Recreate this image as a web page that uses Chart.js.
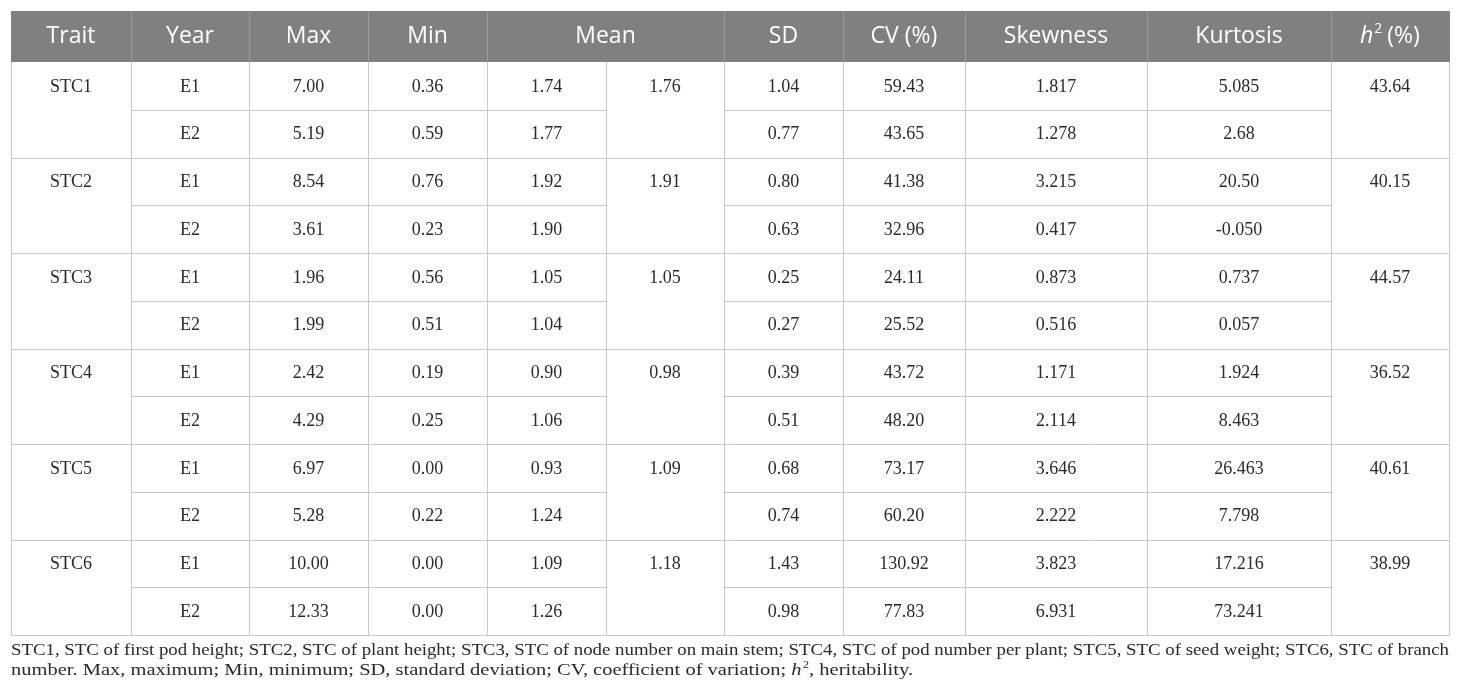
<!DOCTYPE html>
<html>
<head>
<meta charset="utf-8">
<script src="https://cdn.jsdelivr.net/npm/chart.js@4.4.1/dist/chart.umd.min.js"></script>
<style>
  html, body { margin: 0; padding: 0; background: #fff; }
  #wrap { width: 1460px; height: 700px; }
</style>
</head>
<body>
<div id="wrap"><canvas id="myChart"></canvas></div>
<script>
// ---- table data ----
var headers = ['Trait', 'Year', 'Max', 'Min', 'Mean', 'SD', 'CV (%)', 'Skewness', 'Kurtosis', 'h2 (%)'];
var traits = ['STC1', 'STC2', 'STC3', 'STC4', 'STC5', 'STC6'];
var years = ['E1', 'E2'];
var maxVals  = ['7.00', '5.19', '8.54', '3.61', '1.96', '1.99', '2.42', '4.29', '6.97', '5.28', '10.00', '12.33'];
var minVals  = ['0.36', '0.59', '0.76', '0.23', '0.56', '0.51', '0.19', '0.25', '0.00', '0.22', '0.00', '0.00'];
var meanVals = ['1.74', '1.77', '1.92', '1.90', '1.05', '1.04', '0.90', '1.06', '0.93', '1.24', '1.09', '1.26'];
var meanPooled = ['1.76', '1.91', '1.05', '0.98', '1.09', '1.18'];
var sdVals   = ['1.04', '0.77', '0.80', '0.63', '0.25', '0.27', '0.39', '0.51', '0.68', '0.74', '1.43', '0.98'];
var cvVals   = ['59.43', '43.65', '41.38', '32.96', '24.11', '25.52', '43.72', '48.20', '73.17', '60.20', '130.92', '77.83'];
var skewVals = ['1.817', '1.278', '3.215', '0.417', '0.873', '0.516', '1.171', '2.114', '3.646', '2.222', '3.823', '6.931'];
var kurtVals = ['5.085', '2.68', '20.50', '-0.050', '0.737', '0.057', '1.924', '8.463', '26.463', '7.798', '17.216', '73.241'];
var h2Vals   = ['43.64', '40.15', '44.57', '36.52', '40.61', '38.99'];

var footLine1 = 'STC1, STC of first pod height; STC2, STC of plant height; STC3, STC of node number on main stem; STC4, STC of pod number per plant; STC5, STC of seed weight; STC6, STC of branch';
var footLine2a = 'number. Max, maximum; Min, minimum; SD, standard deviation; CV, coefficient of variation; ';
var footLine2b = ', heritability.';

// ---- layout (style, not data) ----
var colWidths = [120, 118, 119, 119, 119, 118, 119, 122, 182, 184, 118];
var headerSpan = [1, 1, 1, 1, 2, 1, 1, 1, 1, 1]; // Mean spans two columns
var mergedCols = [0, 5, 10];                      // cells spanning E1/E2
var headerH = 1.07;
var HEAD_FONT = '23px "Open Sans", sans-serif';
var BODY_FONT = '18px "Liberation Serif", "Times New Roman", serif';
var FOOT_SIZE = 16;
var FOOT_LINE2_W = 902;
var HEAD_BG = '#808080';
var GRID = '#c9c9c9';
var TEXT = '#2a2a2a';

var edges = [0];
colWidths.forEach(function (w) { edges.push(edges[edges.length - 1] + w); });
var total = edges[edges.length - 1];
var nRows = traits.length * years.length;

function colCenter(c) { return (edges[c] + edges[c + 1]) / 2; }

// header points
var headerPoints = [];
var hc = 0;
headers.forEach(function (h, i) {
    var left = edges[hc], right = edges[hc + headerSpan[i]];
    headerPoints.push({ x: (left + right) / 2, y: -headerH / 2, text: h });
    hc += headerSpan[i];
});

// body points
function perRow(col, arr) {
    return arr.map(function (v, r) { return { x: colCenter(col), y: r + 0.5, text: v }; });
}
function perTrait(col, arr) {
    return arr.map(function (v, t) { return { x: colCenter(col), y: t * 2 + 0.5, text: v }; });
}
var yearCol = [];
traits.forEach(function () { years.forEach(function (y) { yearCol.push(y); }); });

var bodyColumns = [
    perTrait(0, traits),
    perRow(1, yearCol),
    perRow(2, maxVals),
    perRow(3, minVals),
    perRow(4, meanVals),
    perTrait(5, meanPooled),
    perRow(6, sdVals),
    perRow(7, cvVals),
    perRow(8, skewVals),
    perRow(9, kurtVals),
    perTrait(10, h2Vals)
];

var datasets = [{ label: 'header', data: headerPoints, isHeader: true, pointRadius: 0 }];
bodyColumns.forEach(function (d, i) {
    datasets.push({ label: 'col' + i, data: d, pointRadius: 0 });
});

function line(ctx, x1, y1, x2, y2) {
    ctx.beginPath();
    ctx.moveTo(x1, y1);
    ctx.lineTo(x2, y2);
    ctx.stroke();
}

function drawFootnote(ctx, area) {
    var left = area.left, width = area.right - area.left;
    var ff = FOOT_SIZE + 'px "Liberation Serif", serif';
    var fi = 'italic ' + ff;
    var fs = Math.round(FOOT_SIZE * 0.62) + 'px "Liberation Serif", serif';
    ctx.font = ff;
    var wa = ctx.measureText(footLine2a).width;
    var wb = ctx.measureText(footLine2b).width;
    ctx.font = fi;
    var wh = ctx.measureText('h').width;
    ctx.font = fs;
    var w2 = ctx.measureText('2').width + 1;
    var sx = FOOT_LINE2_W / (wa + wh + w2 + wb);

    ctx.save();
    ctx.textAlign = 'left';
    ctx.textBaseline = 'alphabetic';
    ctx.fillStyle = TEXT;
    ctx.translate(left, 0);
    ctx.scale(sx, 1);
    var target = width / sx;

    // line 1, justified to the table width
    ctx.font = ff;
    var w1 = ctx.measureText(footLine1).width;
    var y1 = area.bottom + 20;
    if (w1 < target && 'wordSpacing' in ctx) {
        var spaces = footLine1.split(' ').length - 1;
        ctx.wordSpacing = ((target - w1) / spaces).toFixed(2) + 'px';
        ctx.fillText(footLine1, 0, y1);
        ctx.wordSpacing = '0px';
    } else {
        ctx.fillText(footLine1, 0, y1, target);
    }

    // line 2 with italic h and superscript 2
    var y2 = area.bottom + 40;
    var xx = 0;
    ctx.font = ff;
    ctx.fillText(footLine2a, xx, y2);
    xx += wa;
    ctx.font = fi;
    ctx.fillText('h', xx, y2);
    xx += wh;
    ctx.font = fs;
    ctx.fillText('2', xx + 1, y2 - 7);
    xx += w2;
    ctx.font = ff;
    ctx.fillText(footLine2b, xx, y2);
    ctx.restore();
}

var tablePlugin = {
    id: 'tableGrid',
    beforeDatasetsDraw: function (chart) {
        var ctx = chart.ctx, xs = chart.scales.x, ys = chart.scales.y;
        var px = function (v) { return Math.round(xs.getPixelForValue(v)) + 0.5; };
        var py = function (v) { return Math.round(ys.getPixelForValue(v)) + 0.5; };
        ctx.save();
        ctx.fillStyle = HEAD_BG;
        var top = Math.round(ys.getPixelForValue(-headerH));
        var hb = Math.round(ys.getPixelForValue(0));
        var l = Math.round(xs.getPixelForValue(0)), r = Math.round(xs.getPixelForValue(total));
        ctx.fillRect(l, top, r - l + 1, hb - top);

        ctx.lineWidth = 1;
        // header separators
        ctx.strokeStyle = '#9b9b9b';
        var c = 0;
        headerSpan.forEach(function (s, i) {
            c += s;
            if (i < headerSpan.length - 1) line(ctx, px(edges[c]), top, px(edges[c]), hb);
        });

        // body grid
        ctx.strokeStyle = GRID;
        edges.forEach(function (e) { line(ctx, px(e), hb, px(e), py(nRows)); });
        for (var row = 1; row <= nRows; row++) {
            if (row % 2 === 0) {
                line(ctx, px(0) - 0.5, py(row), px(total) + 0.5, py(row));
            } else {
                for (var k = 0; k < colWidths.length; k++) {
                    if (mergedCols.indexOf(k) >= 0) continue;
                    line(ctx, px(edges[k]), py(row), px(edges[k + 1]), py(row));
                }
            }
        }
        ctx.restore();
    },
    afterDatasetsDraw: function (chart) {
        var ctx = chart.ctx;
        ctx.save();
        ctx.textAlign = 'center';
        ctx.textBaseline = 'middle';
        chart.data.datasets.forEach(function (ds, i) {
            var meta = chart.getDatasetMeta(i);
            meta.data.forEach(function (pt, j) {
                var txt = ds.data[j].text;
                if (ds.isHeader) {
                    ctx.fillStyle = '#ffffff';
                    if (txt === 'h2 (%)') {
                        ctx.font = 'italic ' + HEAD_FONT;
                        var wh = ctx.measureText('h').width;
                        ctx.font = '14px "Open Sans", sans-serif';
                        var w2 = ctx.measureText('2').width;
                        ctx.font = HEAD_FONT;
                        var wr = ctx.measureText(' (%)').width;
                        var x0 = pt.x - (wh + w2 + wr) / 2;
                        ctx.textAlign = 'left';
                        ctx.font = 'italic ' + HEAD_FONT;
                        ctx.fillText('h', x0, pt.y);
                        ctx.font = '14px "Open Sans", sans-serif';
                        ctx.fillText('2', x0 + wh + 1, pt.y - 8);
                        ctx.font = HEAD_FONT;
                        ctx.fillText(' (%)', x0 + wh + w2, pt.y);
                        ctx.textAlign = 'center';
                    } else {
                        ctx.font = HEAD_FONT;
                        ctx.fillText(txt, pt.x, pt.y);
                    }
                } else {
                    ctx.font = BODY_FONT;
                    ctx.fillStyle = TEXT;
                    ctx.fillText(txt, pt.x, pt.y + 1);
                }
            });
        });
        ctx.restore();

        drawFootnote(ctx, chart.chartArea);
    }
};

var ctx = document.getElementById('myChart').getContext('2d');
var myChart = new Chart(ctx, {
    type: 'scatter',
    data: { datasets: datasets },
    options: {
        responsive: true,
        maintainAspectRatio: false,
        animation: false,
        events: [],
        layout: { padding: { left: 11, right: 11, top: 11, bottom: 65 } },
        scales: {
            x: { type: 'linear', display: false, min: 0, max: total },
            y: { type: 'linear', display: false, min: -headerH, max: nRows, reverse: true }
        },
        plugins: {
            legend: { display: false },
            tooltip: { enabled: false }
        }
    },
    plugins: [tablePlugin]
});
</script>
</body>
</html>
